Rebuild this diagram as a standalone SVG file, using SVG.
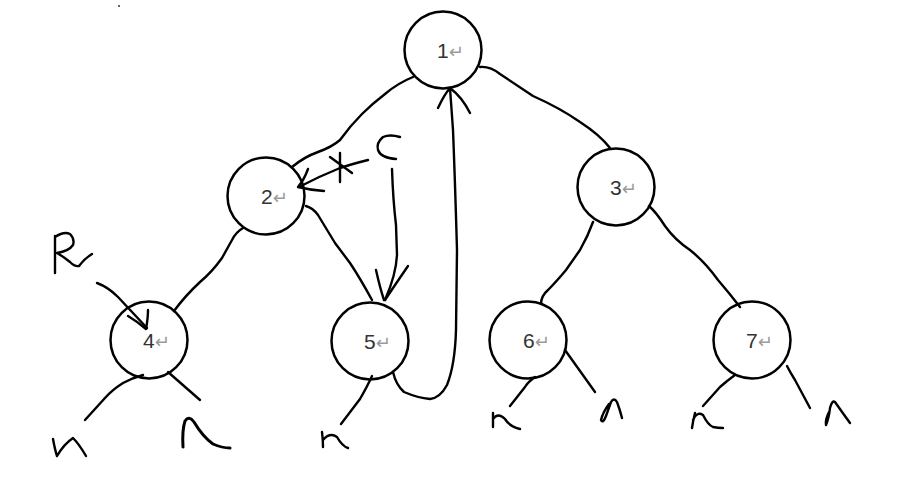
<svg xmlns="http://www.w3.org/2000/svg" width="908" height="477" viewBox="0 0 908 477">
<style>
.n{fill:none;stroke:#000;stroke-width:2.5}
.s{fill:none;stroke:#000;stroke-width:2.4;stroke-linecap:round;stroke-linejoin:round}
.t{font-family:"Liberation Sans","DejaVu Sans",sans-serif;font-size:21px;fill:#333}
.r{fill:#9a9a9a;font-size:18px;font-family:"DejaVu Sans",sans-serif}
</style>
<rect width="908" height="477" fill="#fff"/>
<rect x="118" y="5" width="2" height="2" fill="#666"/>
<g id="node1"><circle class="n" cx="443" cy="50" r="38.5"/><text class="t" x="437" y="58">1<tspan class="r">↵</tspan></text></g>
<g id="node2"><circle class="n" cx="266" cy="196" r="38.5"/><text class="t" x="261" y="204">2<tspan class="r">↵</tspan></text></g>
<g id="node3"><circle class="n" cx="616" cy="187" r="38.5"/><text class="t" x="610" y="195">3<tspan class="r">↵</tspan></text></g>
<g id="node4"><circle class="n" cx="149" cy="340" r="38.5"/><text class="t" x="143" y="348">4<tspan class="r">↵</tspan></text></g>
<g id="node5"><circle class="n" cx="370" cy="341" r="38.5"/><text class="t" x="364" y="349">5<tspan class="r">↵</tspan></text></g>
<g id="node6"><circle class="n" cx="528" cy="340" r="38.5"/><text class="t" x="523" y="348">6<tspan class="r">↵</tspan></text></g>
<g id="node7"><circle class="n" cx="752" cy="340" r="38.5"/><text class="t" x="746" y="348">7<tspan class="r">↵</tspan></text></g>
<g id="connectors">
<path class="s" d="M413,77 Q398,83 385,94 Q372,104 362,114 Q350,126 340,140 Q332,147 318,152 Q304,157 292,167"/>
<path class="s" d="M480,67 Q490,66 500,74 L533,96 Q560,108 580,122 Q600,135 610,148"/>
<path class="s" d="M243,228 Q236,232 232,240 L222,258 Q212,272 200,282 Q185,296 174,311"/>
<path class="s" d="M306,206 Q313,208 318,215 L335,243 L350,263 Q360,278 372,300"/>
<path class="s" d="M593,222 Q588,236 580,250 L566,270 Q556,282 548,290 Q541,296 541,304"/>
<path class="s" d="M649,206 Q656,212 665,226 Q675,240 690,250 Q705,262 718,280 Q730,294 740,307"/>
<path class="s" d="M143,375 Q132,378 123,383 Q112,390 105,398 L85,420"/>
<path class="s" d="M168,372 L200,400"/>
<path class="s" d="M372,376 Q368,385 360,399 L341,424"/>
<path class="s" d="M535,377 Q528,382 525,387 L510,406"/>
<path class="s" d="M565,350 L595,392"/>
<path class="s" d="M735,375 Q728,380 720,387 L703,406"/>
<path class="s" d="M787,366 Q790,372 795,380 L810,408"/>
<path class="s" d="M368,160 Q352,164 340,168 Q320,176 299,187"/>
<path class="s" d="M308,169 Q304,180 298,187 Q310,190 324,191"/>
<path class="s" d="M330,157 L352,173 M340,153 L340,182"/>
<path class="s" d="M392,169 Q393,200 396,225 L397,255 Q396,275 385,300"/>
<path class="s" d="M376,270 Q380,288 384,300 M408,266 Q395,285 385,300"/>
<path class="s" d="M393,372 Q396,385 404,392 Q418,398 430,399 Q440,398 447,385 Q455,365 456,330 L457,250 Q455,180 453,130 L450,88"/>
<path class="s" d="M438,108 Q444,95 450,88 Q462,97 470,113"/>
<path class="s" d="M97,283 Q108,287 118,297 L147,328"/>
<path class="s" d="M128,316 Q138,322 146,329 Q148,318 148,310"/>
</g>
<g id="letters">
<path class="s" d="M400,137 Q390,134 383,137 Q376,143 378,150 Q381,158 396,159"/>
<path class="s" d="M55,236 L55,273 M55,237 Q64,231 70,234 Q75,239 73,245 Q69,251 57,253 Q64,257 70,262 Q75,267 79,266 Q84,259 92,254"/>
<path class="s" d="M53,439 Q55,450 57,456 Q64,444 73,438 Q79,444 86,456"/>
<path class="s" d="M183,447 Q182,430 185,421 Q189,415 194,422 Q203,437 213,444 Q222,448 230,448" style="stroke-width:3"/>
<path class="s" d="M322,432 Q323,440 323,447 M323,440 Q330,432 337,437 Q342,446 348,448"/>
<path class="s" d="M493,413 L493,427 M493,419 Q498,412 505,419 Q510,427 520,429"/>
<path class="s" d="M609,404 Q603,412 601,420 Q603,424 606,416 L611,402 Q614,397 617,402 Q620,410 622,418"/>
<path class="s" d="M695,413 Q693,421 692,428 M693,420 Q697,411 703,415 Q708,425 713,427 Q718,428 723,428"/>
<path class="s" d="M829,412 Q825,420 826,425 Q829,418 830,408 Q832,400 835,402 Q842,412 850,423"/>
</g>
</svg>
